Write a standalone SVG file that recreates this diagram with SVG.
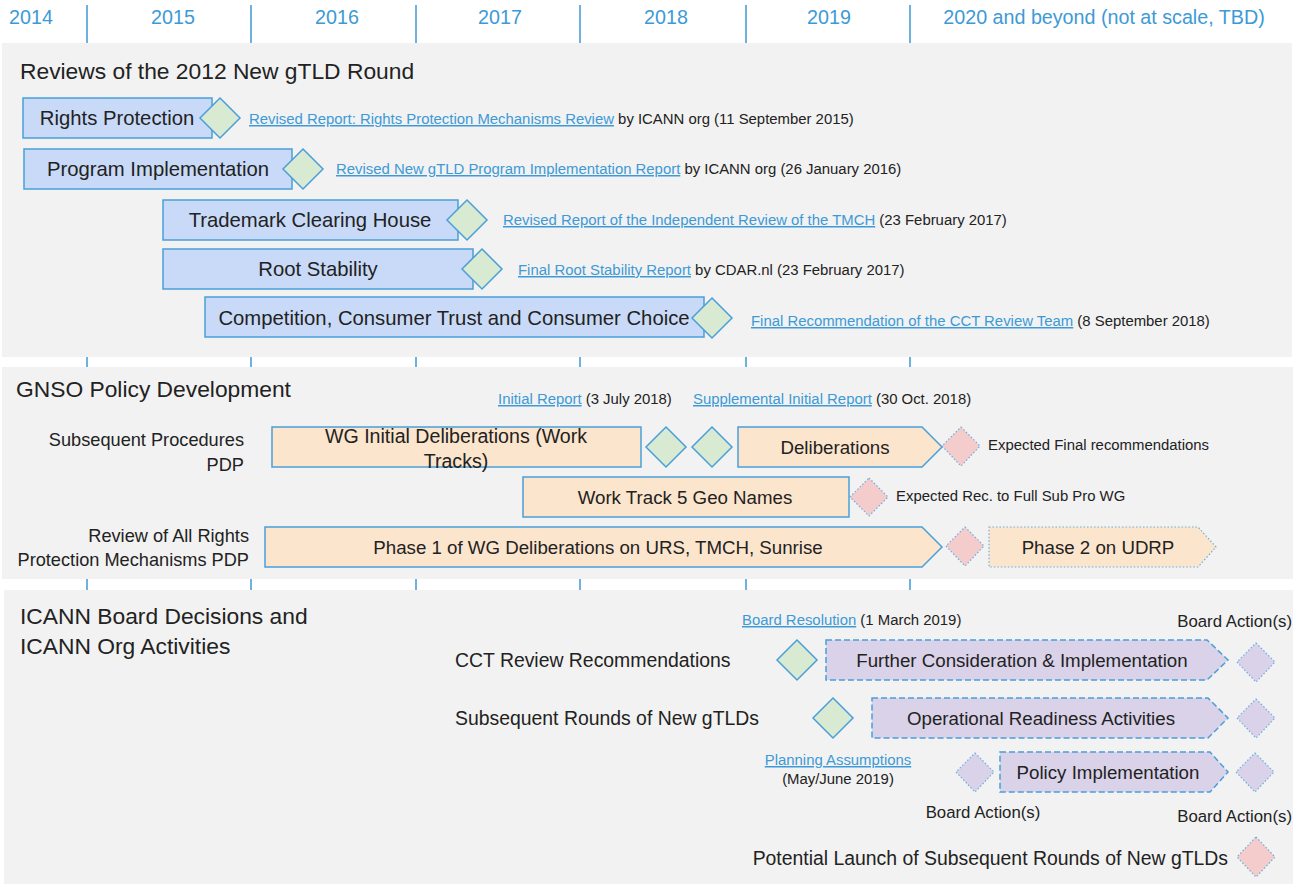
<svg xmlns="http://www.w3.org/2000/svg" width="1298" height="886" viewBox="0 0 1298 886">
<style>
text{font-family:"Liberation Sans",Arial,sans-serif;fill:#222}
.yr{font-size:19.7px;fill:#3d9ad6;text-anchor:middle}
.ttl{font-size:22.8px}
.bx{font-size:20.3px;text-anchor:middle}
.bx2{font-size:18.7px;text-anchor:middle}
.st{font-size:19.4px}
.lbl{font-size:18.2px}
.sm{font-size:14.9px}
.ba{font-size:16.8px}
.lnk{fill:#3d9ad6;text-decoration:underline}
.panel{fill:#f2f2f2}
.grid{stroke:#3d9ad6;stroke-width:1.5}
.blue{fill:#c9daf8;stroke:#4a9fd9;stroke-width:1.5}
.peach{fill:#fce5cd;stroke:#4a9fd9;stroke-width:1.5}
.peachdot{fill:#fce5cd;stroke:#6aaee0;stroke-width:1.2;stroke-dasharray:1.5 2}
.lav{fill:#d9d2e9;stroke:#4a9fd9;stroke-width:1.5;stroke-dasharray:6 3}
.lavdot{fill:#d9d2e9;stroke:#6aaee0;stroke-width:1.2;stroke-dasharray:1.5 2}
.green{fill:#d9ead3;stroke:#4a9fd9;stroke-width:1.5}
.pink{fill:#f4cccc;stroke:#6aaee0;stroke-width:1.2;stroke-dasharray:1.5 2}
</style>
<rect width="1298" height="886" fill="#ffffff"/>
<g id="gridlines">
<line class="grid" x1="87" y1="5" x2="87" y2="884"/>
<line class="grid" x1="251" y1="5" x2="251" y2="884"/>
<line class="grid" x1="416" y1="5" x2="416" y2="884"/>
<line class="grid" x1="580" y1="5" x2="580" y2="884"/>
<line class="grid" x1="746" y1="5" x2="746" y2="884"/>
<line class="grid" x1="910" y1="5" x2="910" y2="884"/>
</g>
<g id="years">
<text class="yr" x="31" y="24">2014</text>
<text class="yr" x="173" y="24">2015</text>
<text class="yr" x="337" y="24">2016</text>
<text class="yr" x="500" y="24">2017</text>
<text class="yr" x="666" y="24">2018</text>
<text class="yr" x="829" y="24">2019</text>
<text class="yr" x="1104" y="24">2020 and beyond (not at scale, TBD)</text>
</g>
<g id="panels">
<rect class="panel" x="2" y="43" width="1290" height="314"/>
<rect class="panel" x="2" y="367" width="1291" height="212"/>
<rect class="panel" x="4" y="590" width="1289" height="294"/>
</g>

<g id="section1">
<text class="ttl" x="20" y="79">Reviews of the 2012 New gTLD Round</text>
<g id="rights-protection">
<rect class="blue" x="23" y="98" width="189" height="40"/>
<text class="bx" x="117" y="125">Rights Protection</text>
<path class="green" d="M220 98 L240 118 L220 138 L200 118 Z"/>
<text class="sm" x="249" y="124"><tspan class="lnk">Revised Report: Rights Protection Mechanisms Review</tspan> by ICANN org (11 September 2015)</text>
</g>
<g id="program-implementation">
<rect class="blue" x="24" y="149" width="268" height="40"/>
<text class="bx" x="158" y="176">Program Implementation</text>
<path class="green" d="M303 149 L323 169 L303 189 L283 169 Z"/>
<text class="sm" x="336" y="174"><tspan class="lnk">Revised New gTLD Program Implementation Report</tspan> by ICANN org (26 January 2016)</text>
</g>
<g id="tmch">
<rect class="blue" x="163" y="200" width="295" height="40"/>
<text class="bx" x="310" y="227">Trademark Clearing House</text>
<path class="green" d="M467 200 L487 220 L467 240 L447 220 Z"/>
<text class="sm" x="503" y="225"><tspan class="lnk">Revised Report of the Independent Review of the TMCH</tspan> (23 February 2017)</text>
</g>
<g id="root-stability">
<rect class="blue" x="163" y="249" width="310" height="40"/>
<text class="bx" x="318" y="276">Root Stability</text>
<path class="green" d="M482 249 L502 269 L482 289 L462 269 Z"/>
<text class="sm" x="518" y="275"><tspan class="lnk">Final Root Stability Report</tspan> by CDAR.nl (23 February 2017)</text>
</g>
<g id="cct">
<rect class="blue" x="205" y="297" width="499" height="40"/>
<text class="bx" x="454" y="325">Competition, Consumer Trust and Consumer Choice</text>
<path class="green" d="M712 298 L732 318 L712 338 L692 318 Z"/>
<text class="sm" x="751" y="326"><tspan class="lnk">Final Recommendation of the CCT Review Team</tspan> (8 September 2018)</text>
</g>
</g>

<g id="section2">
<text class="ttl" x="16" y="397">GNSO Policy Development</text>
<text class="sm" x="498" y="404"><tspan class="lnk">Initial Report</tspan> (3 July 2018)</text>
<text class="sm" x="693" y="404"><tspan class="lnk">Supplemental Initial Report</tspan> (30 Oct. 2018)</text>
<g id="subpro-label">
<text class="lbl" x="244" y="446" style="text-anchor:end">Subsequent Procedures</text>
<text class="lbl" x="244" y="471" style="text-anchor:end">PDP</text>
</g>
<g id="wg-initial">
<rect class="peach" x="272" y="427" width="369" height="40"/>
<text class="bx" x="456" y="443" style="font-size:19.6px">WG Initial Deliberations (Work</text>
<text class="bx" x="456" y="468" style="font-size:19.6px">Tracks)</text>
</g>
<g id="initial-report-ms"><path class="green" d="M666 427 L686 447 L666 467 L646 447 Z"/></g>
<g id="supplemental-ms"><path class="green" d="M712 427 L732 447 L712 467 L692 447 Z"/></g>
<g id="deliberations">
<path class="peach" d="M738 427 H922 L942 447 L922 467 H738 Z"/>
<text class="bx2" x="835" y="454">Deliberations</text>
</g>
<g id="final-recs">
<path class="pink" d="M961 427 L980 446 L961 466 L942 446 Z"/>
<text class="sm" x="988" y="450">Expected Final recommendations</text>
</g>
<g id="wt5">
<rect class="peach" x="523" y="477" width="326" height="40"/>
<text class="bx2" x="685" y="504">Work Track 5 Geo Names</text>
</g>
<g id="wt5-rec">
<path class="pink" d="M869 478 L888 497 L869 516 L850 497 Z"/>
<text class="sm" x="896" y="501">Expected Rec. to Full Sub Pro WG</text>
</g>
<g id="rpm-label">
<text class="lbl" x="249" y="542" style="text-anchor:end">Review of All Rights</text>
<text class="lbl" x="249" y="566" style="text-anchor:end">Protection Mechanisms PDP</text>
</g>
<g id="phase1">
<path class="peach" d="M265 527 H922 L942 547 L922 567 H265 Z"/>
<text class="bx2" x="598" y="554">Phase 1 of WG Deliberations on URS, TMCH, Sunrise</text>
</g>
<g id="phase1-end"><path class="pink" d="M965 527 L984 546 L965 566 L946 546 Z"/></g>
<g id="phase2">
<path class="peachdot" d="M989 527 H1198 L1216 547 L1198 567 H989 Z"/>
<text class="bx2" x="1098" y="554">Phase 2 on UDRP</text>
</g>
</g>

<g id="section3">
<text class="ttl" x="20" y="624">ICANN Board Decisions and</text>
<text class="ttl" x="20" y="654">ICANN Org Activities</text>
<text class="sm" x="742" y="625"><tspan class="lnk">Board Resolution</tspan> (1 March 2019)</text>
<text class="ba" x="1292" y="627" style="text-anchor:end">Board Action(s)</text>
<g id="cct-recs">
<text class="st" x="455" y="667">CCT Review Recommendations</text>
<path class="green" d="M797 640 L817 660 L797 680 L777 660 Z"/>
</g>
<g id="further">
<path class="lav" d="M826 640 H1207 L1228 660 L1207 680 H826 Z"/>
<text class="bx2" x="1022" y="667">Further Consideration &amp; Implementation</text>
<path class="lavdot" d="M1256 643 L1275 662 L1256 682 L1237 662 Z"/>
</g>
<g id="subsequent-rounds">
<text class="st" x="455" y="725">Subsequent Rounds of New gTLDs</text>
<path class="green" d="M833 698 L853 718 L833 738 L813 718 Z"/>
</g>
<g id="operational">
<path class="lav" d="M872 698 H1208 L1228 718 L1208 738 H872 Z"/>
<text class="bx2" x="1041" y="725">Operational Readiness Activities</text>
<path class="lavdot" d="M1256 699 L1275 718 L1256 738 L1237 718 Z"/>
</g>
<g id="planning">
<text class="sm" x="838" y="765" style="text-anchor:middle"><tspan class="lnk">Planning Assumptions</tspan></text>
<text class="sm" x="838" y="784" style="text-anchor:middle">(May/June 2019)</text>
<path class="lavdot" d="M975 753 L994 772 L975 792 L956 772 Z"/>
<text class="ba" x="983" y="818" style="text-anchor:middle">Board Action(s)</text>
</g>
<g id="policy-impl">
<path class="lav" d="M1000 752 H1210 L1228 772 L1210 792 H1000 Z"/>
<text class="bx2" x="1108" y="779">Policy Implementation</text>
<path class="lavdot" d="M1255 753 L1274 772 L1255 792 L1236 772 Z"/>
<text class="ba" x="1292" y="822" style="text-anchor:end">Board Action(s)</text>
</g>
<g id="launch">
<text class="st" x="1228" y="865" style="text-anchor:end">Potential Launch of Subsequent Rounds of New gTLDs</text>
<path class="pink" d="M1256 837 L1275 857 L1256 877 L1237 857 Z"/>
</g>
</g>
</svg>
